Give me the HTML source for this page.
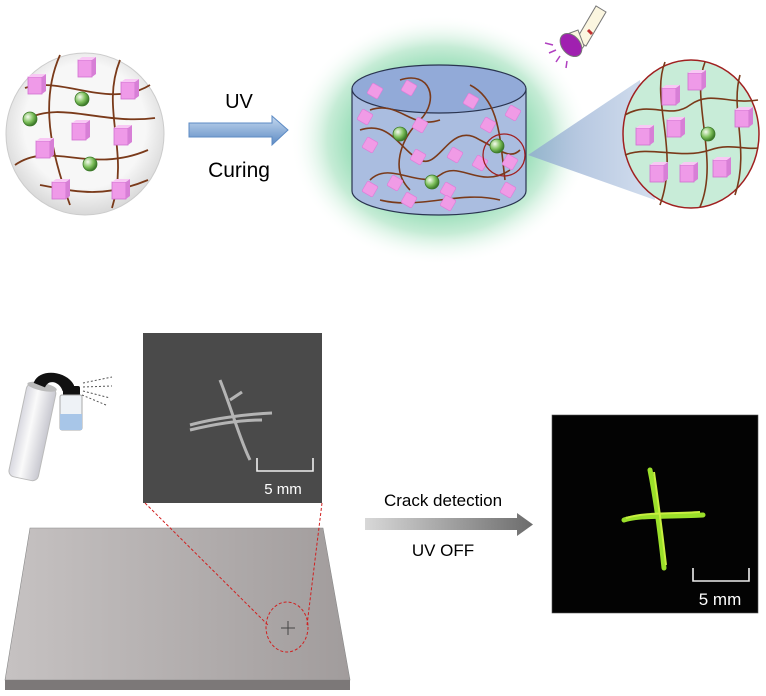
<!DOCTYPE html>
<html><head><meta charset="utf-8"><style>
html,body{margin:0;padding:0;background:#fff}
svg{display:block}
text{font-family:"Liberation Sans",sans-serif}
</style></head><body>
<svg width="766" height="696" viewBox="0 0 766 696" xmlns="http://www.w3.org/2000/svg">
<defs>
<radialGradient id="glow" cx="50%" cy="50%" r="50%">
<stop offset="0.5" stop-color="#86d8ac"/><stop offset="0.75" stop-color="#c6ecd6"/><stop offset="1" stop-color="#fff" stop-opacity="0"/></radialGradient>
<radialGradient id="ball" cx="35%" cy="35%" r="65%"><stop offset="0" stop-color="#f6fbf0"/><stop offset="0.6" stop-color="#7cbf5a"/><stop offset="1" stop-color="#3d7a2a"/></radialGradient>
<radialGradient id="lc" cx="50%" cy="45%" r="55%"><stop offset="0.7" stop-color="#f7f7f7"/><stop offset="1" stop-color="#d8d8d8"/></radialGradient>
<linearGradient id="barr" x1="0" y1="0" x2="0" y2="1"><stop offset="0" stop-color="#c5d8ef"/><stop offset="1" stop-color="#5d8bc4"/></linearGradient>
<linearGradient id="garr" x1="0" y1="0" x2="1" y2="0"><stop offset="0" stop-color="#d8d8d8"/><stop offset="1" stop-color="#6c6c6c"/></linearGradient>
<linearGradient id="plate" x1="0" y1="0" x2="1" y2="0"><stop offset="0" stop-color="#c6c2c2"/><stop offset="1" stop-color="#a19c9c"/></linearGradient>
<linearGradient id="cone" x1="0" y1="0" x2="1" y2="0"><stop offset="0" stop-color="#8fa9cf"/><stop offset="1" stop-color="#c8d6ea"/></linearGradient>
<linearGradient id="can" x1="0" y1="0" x2="1" y2="0"><stop offset="0" stop-color="#d8d8e0"/><stop offset="0.4" stop-color="#fafafa"/><stop offset="1" stop-color="#c8c8d0"/></linearGradient>
<g id="cube"><rect x="0" y="0" width="14" height="17" fill="#ef9ae8" stroke="#d070d0" stroke-width="0.8"/><path d="M0 0 l4 -3 h14 l-4 3z" fill="#f8c8f4"/><path d="M14 0 l4 -3 v17 l-4 3z" fill="#d77fd6"/></g>
<g id="dia"><rect x="-6" y="-6" width="12" height="12" rx="1.5" transform="rotate(30)" fill="#f09be6" stroke="#e07ad8" stroke-width="0.6"/></g>
<g id="bl"><circle r="7" fill="url(#ball)" stroke="#3d7a2a" stroke-width="0.8"/></g>
</defs>

<!-- left circle -->
<ellipse cx="85" cy="134" rx="79" ry="81" fill="url(#lc)" stroke="#ccc"/>
<g fill="none" stroke="#7a3a1a" stroke-width="1.8">
<path d="M25 88 C60 75 110 110 150 85"/>
<path d="M15 165 C50 140 90 175 148 150"/>
<path d="M40 185 C70 190 100 200 148 180"/>
<path d="M60 55 C40 100 50 150 70 205"/>
<path d="M120 60 C100 110 130 150 112 208"/>
<path d="M25 120 C60 100 100 125 155 118"/>
</g>
<use href="#cube" x="28" y="77"/><use href="#cube" x="78" y="60"/><use href="#cube" x="121" y="82"/>
<use href="#cube" x="72" y="123"/><use href="#cube" x="114" y="128"/><use href="#cube" x="36" y="141"/>
<use href="#cube" x="52" y="182"/><use href="#cube" x="112" y="182"/>
<use href="#bl" x="82" y="99"/><use href="#bl" x="30" y="119"/><use href="#bl" x="90" y="164"/>

<!-- blue arrow -->
<path d="M189 123 H272 V116 L288 130 L272 145 V137 H189 Z" fill="url(#barr)" stroke="#5d8bc4"/>
<text x="239" y="108" font-size="20" text-anchor="middle">UV</text>
<text x="239" y="177" font-size="21" text-anchor="middle">Curing</text>

<!-- glow + cylinder -->
<ellipse cx="440" cy="140" rx="150" ry="125" fill="url(#glow)"/>
<path d="M352 89 V191 A87 24 0 0 0 526 191 V89 Z" fill="#aabde0" stroke="#2a3450" stroke-width="1.2"/>
<ellipse cx="439" cy="89" rx="87" ry="24" fill="#92aad8" stroke="#2a3450" stroke-width="1.2"/>
<g fill="none" stroke="#7a3a1a" stroke-width="1.6">
<path d="M360 130 C390 120 400 150 420 160 C440 170 450 120 480 140 C500 150 510 160 520 150"/>
<path d="M370 180 C390 160 420 190 440 175 C460 160 480 190 510 170"/>
<path d="M400 80 C430 70 440 100 420 120 C400 140 390 170 410 190"/>
<path d="M470 85 C500 100 500 140 505 180"/>
<path d="M380 200 C420 210 460 190 500 200"/>
<path d="M370 110 C400 100 410 130 440 120"/>
</g>
<g>
<use href="#dia" x="375" y="91"/><use href="#dia" x="409" y="88"/><use href="#dia" x="471" y="101"/><use href="#dia" x="513" y="113"/>
<use href="#dia" x="365" y="117"/><use href="#dia" x="420" y="125"/><use href="#dia" x="488" y="125"/>
<use href="#dia" x="370" y="145"/><use href="#dia" x="418" y="157"/><use href="#dia" x="455" y="155"/><use href="#dia" x="480" y="163"/>
<use href="#dia" x="395" y="183"/><use href="#dia" x="370" y="189"/><use href="#dia" x="448" y="190"/><use href="#dia" x="508" y="190"/><use href="#dia" x="448" y="203"/><use href="#dia" x="409" y="200"/><use href="#dia" x="510" y="162"/>
</g>
<use href="#bl" x="400" y="134"/><use href="#bl" x="432" y="182"/><use href="#bl" x="497" y="146"/>
<circle cx="504" cy="155" r="21" fill="none" stroke="#a02020" stroke-width="1.3"/>

<!-- cone -->
<path d="M528 155 L640 80 L655 200 Z" fill="url(#cone)" opacity="0.8"/>
<!-- zoom circle -->
<ellipse cx="691" cy="134" rx="68" ry="74" fill="#c8ecd8" stroke="#a02020" stroke-width="1.5"/>
<g fill="none" stroke="#7a3a1a" stroke-width="1.6">
<path d="M625 115 C650 100 670 120 690 105 C710 90 730 105 758 100"/>
<path d="M625 155 C650 145 680 160 710 150 C730 143 745 150 758 148"/>
<path d="M665 62 C650 100 680 150 660 205"/>
<path d="M705 62 C690 100 720 160 700 207"/>
<path d="M740 75 C730 110 750 150 735 195"/>
</g>
<use href="#cube" x="662" y="88"/><use href="#cube" x="688" y="73"/>
<use href="#cube" x="636" y="128"/><use href="#cube" x="667" y="120"/><use href="#cube" x="735" y="110"/>
<use href="#cube" x="650" y="165"/><use href="#cube" x="680" y="165"/><use href="#cube" x="713" y="160"/>
<use href="#bl" x="708" y="134"/>

<!-- flashlight -->
<path d="M576 40 L596 6 L606 12 L586 46 Z" fill="#fbf6e0" stroke="#777"/>
<path d="M562 36 L578 30 L584 46 L576 56 Z" fill="#fbf6e0" stroke="#777"/>
<ellipse cx="571" cy="45" rx="9" ry="13" transform="rotate(-40 571 45)" fill="#a020b0" stroke="#777"/>
<path d="M588 30 l4 4" stroke="#c03030" stroke-width="3"/>
<g stroke="#b040c0" stroke-width="1.5"><line x1="545" y1="43" x2="553" y2="45"/><line x1="549" y1="53" x2="556" y2="50"/><line x1="556" y1="62" x2="560" y2="56"/><line x1="566" y1="68" x2="567" y2="61"/></g>

<!-- spray can -->
<g transform="rotate(12 35 420)">
<rect x="20" y="385" width="30" height="95" rx="6" fill="url(#can)" stroke="#bbb"/>
<ellipse cx="35" cy="386" rx="15" ry="4" fill="#bbb"/>
<path d="M26 384 C28 368 56 365 66 378 L66 386 L56 386 C52 378 40 376 38 386 Z" fill="#111"/>
</g>
<rect x="63" y="386" width="17" height="10" rx="2" fill="#111"/>
<rect x="60" y="395" width="22" height="35" rx="2" fill="#eef2f6" stroke="#aaa"/>
<rect x="60" y="414" width="22" height="16" fill="#a8c6e8"/>
<g stroke="#555" stroke-dasharray="2,2"><line x1="83" y1="383" x2="112" y2="377"/><line x1="83" y1="387" x2="112" y2="386"/><line x1="83" y1="391" x2="110" y2="398"/><line x1="82" y1="395" x2="106" y2="405"/></g>

<!-- photo -->
<rect x="143" y="333" width="179" height="170" fill="#4a4a4a"/>
<g stroke="#d8d8d8" stroke-width="3" fill="none" opacity="0.75">
<path d="M220 380 C232 410 240 440 250 460"/><path d="M190 425 C215 418 250 414 272 413"/><path d="M190 430 C215 424 240 420 262 420"/><path d="M230 400 l12 -8"/>
</g>
<path d="M257 458 v13 h56 v-13" fill="none" stroke="#eee" stroke-width="1.6"/>
<text x="283" y="494" font-size="15" fill="#fff" text-anchor="middle">5 mm</text>

<!-- plate -->
<path d="M5 680 L30 528 H323 L350 680 Z" fill="url(#plate)" stroke="#888" stroke-width="0.6"/>
<path d="M5 680 H350 V690 H5 Z" fill="#7c7878"/>
<g stroke="#d02020" stroke-dasharray="3,2" fill="none" stroke-width="1">
<line x1="145" y1="503" x2="268" y2="625"/><line x1="322" y1="503" x2="307" y2="625"/>
<ellipse cx="287" cy="627" rx="21" ry="25"/>
</g>
<path d="M288 621 v14 M281 628 h14" stroke="#444"/>

<!-- gray arrow -->
<path d="M365 518 H517 V513 L533 524.5 L517 536 V530 H365 Z" fill="url(#garr)"/>
<text x="443" y="506" font-size="17" text-anchor="middle">Crack detection</text>
<text x="443" y="556" font-size="17" text-anchor="middle">UV OFF</text>

<!-- green photo -->
<rect x="552" y="415" width="206" height="198" fill="#030303" stroke="#555" stroke-width="0.6"/>
<g stroke="#9be02a" stroke-width="5" fill="none" stroke-linecap="round">
<path d="M624 520 C640 515 660 517 703 515"/><path d="M650 470 C656 500 660 530 664 568"/>
</g>
<g stroke="#c8f040" stroke-width="2" fill="none"><path d="M626 518 C645 512 670 514 700 512"/><path d="M654 472 C658 500 662 530 666 565"/></g>
<path d="M693 568 v13 h56 v-13" fill="none" stroke="#eee" stroke-width="1.6"/>
<text x="720" y="605" font-size="17" fill="#fff" text-anchor="middle">5 mm</text>
</svg>
</body></html>
